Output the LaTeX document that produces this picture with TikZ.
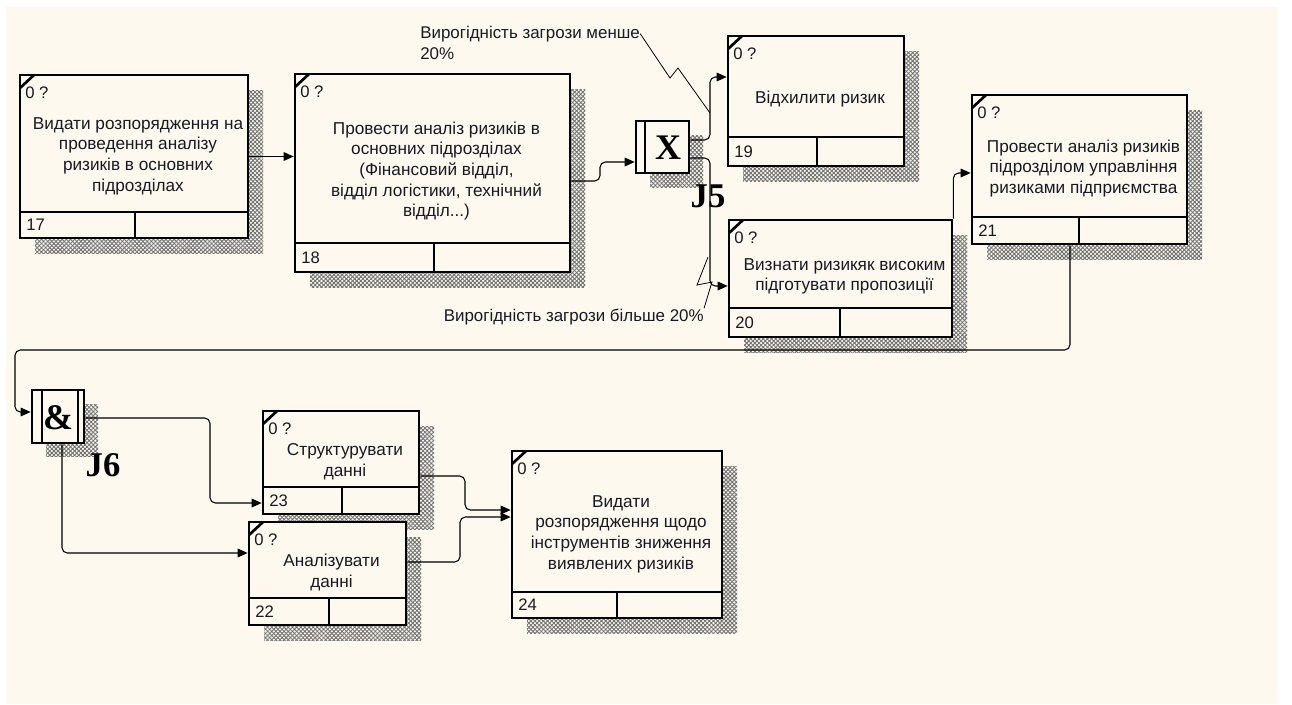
\documentclass[tikz,border=0pt]{standalone}
\usepackage{fontspec}
\setmainfont{Liberation Sans}
\newfontfamily\jfont{Liberation Serif}
\usetikzlibrary{arrows.meta,fit,patterns.meta}
\definecolor{cream}{RGB}{253,249,239}
\definecolor{txt}{RGB}{25,25,35}
\tikzset{
 conn/.style={draw=black, line width=0.8pt, rounded corners=4pt, -{Triangle[length=7.5pt,width=6.5pt]}},
 leader/.style={draw=black, line width=0.6pt},
 boxframe/.style={draw=black, line width=2pt, fill=cream, inner sep=0pt},
 divline/.style={draw=black, line width=2pt},
 boxtext/.style={text=txt, align=center, font=\fontsize{12.9}{15.5}\selectfont, inner sep=0pt},
 smalltext/.style={text=txt, font=\fontsize{12.5}{15}\selectfont, inner sep=0pt},
 lbl/.style={text=txt, font=\fontsize{12.7}{15}\selectfont, inner sep=0pt},
 jtext/.style={text=black, font=\jfont\bfseries\fontsize{27}{27}\selectfont, inner sep=0pt},
 shadowA/.style={pattern={Lines[angle=45,distance=2.2pt,line width=0.7pt]}, pattern color=black!55},
 shadowB/.style={pattern={Lines[angle=-45,distance=2.2pt,line width=0.7pt]}, pattern color=black!55},
}
% shadow: left, top, right, bottom
\newcommand\idefshadow[4]{%
 \fill[shadowA] ({#1+15},{#2+15}) rectangle ({#3+15},{#4+15});
 \fill[shadowB] ({#1+15},{#2+15}) rectangle ({#3+15},{#4+15});
}
% box: name, left, top, right, bottom, divider y, divider x, id, text
\newcommand\idefbox[9]{%
 \node[boxframe, fit={(#2,#3) (#4,#5)}] (#1) {};
 \draw[divline] (#2,#6) -- (#4,#6) (#7,#6) -- (#7,#5);
 \draw[divline] (#2,{#3+13}) -- ({#2+14},#3);
 \node[smalltext, anchor=west] (#1q) at ({#2+5},{#3+18}) {0 ?};
 \node[smalltext, anchor=west] (#1n) at ({#2+6},{(#6+#5)/2}) {#8};
 \node[boxtext] (#1t) at ({(#2+#4)/2+4},{(#3+25+#6)/2}) {#9};
}
\begin{document}
\begin{tikzpicture}[x=0.75pt,y=-0.75pt]
\useasboundingbox (0,0) rectangle (1292,704);
\fill[white] (0,0) rectangle (1292,704);
\fill[cream] (6,7) rectangle (1278,704);

% helper levels
\coordinate (h77) at (0,77);
\coordinate (h140) at (0,140);
\coordinate (h158) at (0,158);
\coordinate (h162) at (0,162);
\coordinate (h173) at (0,173);
\coordinate (h181) at (0,181);
\coordinate (h286) at (0,286);
\coordinate (h412) at (0,412);
\coordinate (h418) at (0,418);
\coordinate (h476) at (0,476);
\coordinate (h503) at (0,503);
\coordinate (h510) at (0,510);
\coordinate (h517) at (0,517);
\coordinate (h553) at (0,553);
\coordinate (h562) at (0,562);
\coordinate (v62) at (62,0);
\coordinate (v1070) at (1070,0);

% shadows
\idefshadow{20}{75}{248}{238}
\idefshadow{295}{74}{570}{272}
\idefshadow{728}{36}{904}{166}
\idefshadow{729}{220}{952}{337}
\idefshadow{972}{95}{1187}{244}
\idefshadow{263}{411}{419}{514}
\idefshadow{249}{522}{406}{625}
\idefshadow{512}{451}{722}{618}
\fill[shadowA] (650,135) rectangle (703,187);
\fill[shadowB] (650,135) rectangle (703,187);
\fill[shadowA] (46,404) rectangle (98,456);
\fill[shadowB] (46,404) rectangle (98,456);

% boxes
\idefbox{b17}{20}{75}{248}{238}{212}{135}{17}{Видати розпорядження на\\проведення аналізу\\ризиків в основних\\підрозділах}
\idefbox{b18}{295}{74}{570}{272}{243}{434}{18}{Провести аналіз ризиків в\\основних підрозділах\\(Фінансовий відділ,\\відділ логістики, технічний\\відділ...)}
\idefbox{b19}{728}{36}{904}{166}{137}{817}{19}{Відхилити ризик}
\idefbox{b20}{729}{220}{952}{337}{308}{840}{20}{Визнати ризикяк високим\\підготувати пропозиції}
\idefbox{b21}{972}{95}{1187}{244}{217}{1079}{21}{Провести аналіз ризиків\\підрозділом управління\\ризиками підприємства}
\idefbox{b23}{263}{411}{419}{514}{487}{342}{23}{Структурувати\\данні}
\idefbox{b22}{249}{522}{406}{625}{598}{329}{22}{Аналізувати\\данні}
\idefbox{b24}{512}{451}{722}{618}{592}{617}{24}{Видати\\розпорядження щодо\\інструментів зниження\\виявлених ризиків}

% junctions
\node[boxframe, fit={(636,121) (689,173)}] (j5) {};
\draw[divline, line width=1.5pt] (645,121) -- (645,173);
\node[jtext] (j5x) at (668,148) {X};
\node[jtext, font=\jfont\bfseries\fontsize{26}{26}\selectfont] (j5l) at (708,196) {J5};

\node[boxframe, fit={(32,390) (84,443)}] (j6) {};
\draw[divline, line width=1.5pt] (42,390) -- (42,443) (78,390) -- (78,443);
\node[jtext] (j6x) at (58,418) {\&};
\node[jtext, font=\jfont\bfseries\fontsize{26}{26}\selectfont] (j6l) at (103,465) {J6};

% connectors
\draw[conn] (b17.east) -- (b17.east -| b18.west);
\draw[conn] (b18.east |- h181) -- (600,181) -- (600,162) -- (j5.west |- h162);
\draw[conn] (j5.east |- h140) -- (710,140) -- (710,77) -- (b19.west |- h77);
\draw[conn] (j5.east |- h158) -- (710,158) -- (710,286) -- (b20.west |- h286);
\draw[conn] (b20.north east) -- (b20.north east |- h173) -- (b21.west |- h173);
\draw[conn] (b21.south -| v1070) -- (1070,350) -- (15,350) -- (15,412) -- (j6.west |- h412);
\draw[conn] (j6.east |- h418) -- (210,418) -- (210,503) -- (b23.west |- h503);
\draw[conn] (j6.south -| v62) -- (62,553) -- (b22.west |- h553);
\draw[conn] (b23.east |- h476) -- (465,476) -- (465,510) -- (b24.west |- h510);
\draw[conn] (b22.east |- h562) -- (460,562) -- (460,517) -- (b24.west |- h517);

% labels
\node[lbl, anchor=base west] (lab1) at (420,38) {Вирогідність загрози менше};
\node[lbl, anchor=base west] (lab1b) at (420,59) {20\%};
\draw[leader] (lab1.east) -- (670,78) -- (678,68) -- (710,113);
\node[lbl, anchor=base east] (lab2) at (704,321) {Вирогідність загрози більше 20\%};
\draw[leader] (lab2.north east) -- (712,282) -- (697,285) -- (708,257);
\end{tikzpicture}
\end{document}
